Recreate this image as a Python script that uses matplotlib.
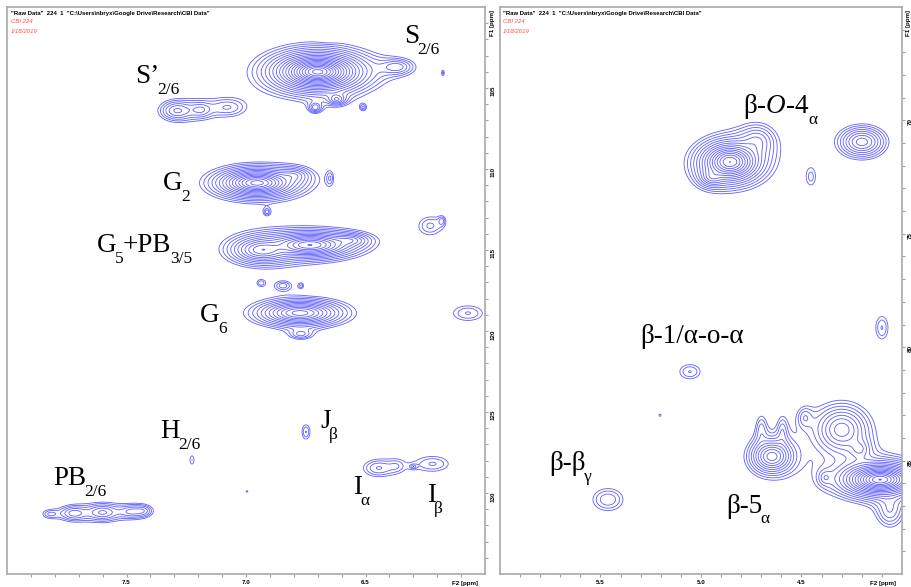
import numpy as np
import matplotlib.pyplot as plt
from matplotlib.ticker import FixedLocator

plt.rcParams['font.family'] = ['Liberation Serif', 'DejaVu Serif']
plt.rcParams['mathtext.fontset'] = 'custom'
plt.rcParams['mathtext.rm'] = 'Liberation Serif'
plt.rcParams['mathtext.it'] = 'Liberation Serif:italic'

# aromatic region cross peaks: 1H shift, 13C shift, height, 1H width, 13C width
aro_h = [6.700, 6.370, 6.710, 6.620, 6.510,
         7.289, 7.190, 7.075,
         6.954, 6.800, 6.912, 6.649,
         6.732, 6.933, 6.565, 6.230, 6.180,
         6.937, 6.845, 6.770,
         6.774, 6.770, 6.071, 6.176,
         6.749, 7.226, 6.448, 6.370, 6.218, 6.300, 6.996,
         7.720, 7.600, 7.480, 7.820, 7.430,
         6.661, 6.720]
aro_c = [104.00, 103.70, 106.20, 105.70, 106.20,
         106.40, 106.35, 106.20,
         110.86, 110.40, 112.65, 110.56,
         114.69, 115.00, 114.40, 113.50, 113.20,
         117.04, 117.20, 117.20,
         118.89, 120.20, 118.90, 104.07,
         126.23, 127.96, 128.46, 128.33, 128.20, 128.37, 129.90,
         131.25, 131.20, 131.15, 131.30, 131.10,
         101.85, 117.30]
aro_amp = [166, 3, 3, 4, 1.5,
           3.7, 2.2, 2.0,
           45, 3, 1.6, 1.3,
           30, 12, 4, 1.7, 1.3,
           1.3, 1.7, 1.3,
           20.5, 2, 1.7, 1.3,
           1.7, 1.3, 2.1, 1.0, 1.7, 1.3, 1.3,
           3.0, 3.6, 2.5, 1.5, 1.8,
           -1.3, -1.3]
aro_wh = [0.085, 0.080, 0.030, 0.040, 0.020,
          0.080, 0.060, 0.100,
          0.100, 0.070, 0.020, 0.022,
          0.120, 0.104, 0.080, 0.076, 0.020,
          0.028, 0.046, 0.017,
          0.125, 0.060, 0.106, 0.011,
          0.030, 0.022, 0.087, 0.050, 0.114, 0.017, 0.011,
          0.070, 0.080, 0.070, 0.050, 0.050,
          0.028, 0.022]
aro_wc = [0.54, 0.55, 0.35, 0.35, 0.30,
          0.70, 0.60, 0.75,
          0.53, 0.50, 0.30, 0.66,
          0.52, 0.67, 0.40, 0.90, 0.40,
          0.33, 0.39, 0.25,
          0.56, 0.40, 0.79, 0.33,
          0.79, 0.66, 0.74, 0.60, 0.79, 0.16, 0.12,
          0.55, 0.60, 0.50, 0.40, 0.45,
          0.25, 0.25]

# oxygenated aliphatic region cross peaks
ali_h = [4.856, 4.720, 4.945, 4.199, 4.453,
         5.055, 5.204, 4.100, 5.463,
         4.647, 4.700, 4.595,
         4.300, 4.210, 4.483,
         4.109, 4.060, 4.383]
ali_c = [71.83, 70.90, 72.50, 70.95, 72.49,
         81.08, 83.00, 79.14, 86.72,
         84.82, 83.60, 83.70,
         83.63, 84.50, 83.10,
         85.84, 87.20, 85.75]
ali_amp = [51, 3, 5, 7.2, 1.3,
           1.7, 1.3, 1.7, 2.1,
           12.1, 1.5, 1.5,
           7.2, 2.5, 1.6,
           87, 2.5, 1.5]
ali_wh = [0.090, 0.100, 0.060, 0.103, 0.046,
          0.090, 0.013, 0.054, 0.111,
          0.086, 0.040, 0.035,
          0.122, 0.060, 0.050,
          0.100, 0.080, 0.040]
ali_wc = [0.535, 0.80, 0.40, 0.61, 0.76,
          0.56, 0.12, 0.88, 0.72,
          0.62, 0.90, 0.90,
          0.98, 0.50, 0.60,
          0.38, 0.90, 0.40]

# peak assignments: alternating normal / subscript pieces, then 1H and 13C of the baseline start
aro_labels = [(['S', '2/6'], 6.339, 102.22), (['S’', '2/6'], 7.464, 104.69),
              (['G', '2'], 7.347, 111.30), (['G', '5', '+PB', '3/5'], 7.623, 115.12),
              (['G', '6'], 7.192, 119.44), (['H', '2/6'], 7.360, 126.60),
              (['J', 'β'], 6.690, 125.99), (['PB', '2/6'], 7.808, 129.50),
              (['I', 'α'], 6.552, 130.06), (['I', 'β'], 6.243, 130.56)]
ali_labels = [(['β-$\\mathit{O}$-4', 'α'], 4.791, 69.67),
              (['β-1/α-o-α'], 5.303, 79.80),
              (['β-β', 'γ'], 5.756, 85.40),
              (['β-5', 'α'], 4.876, 87.29)]

levels = 1.3 ** np.arange(0, 26)


def spectrum(x, y, h, c, amp, wh, wc):
    X, Y = np.meshgrid(x, y)
    Z = np.zeros_like(X)
    for h0, c0, a, w1, w2 in zip(h, c, amp, wh, wc):
        u2 = ((X - h0) / w1) ** 2 + ((Y - c0) / w2) ** 2
        Z += a / (1 + u2) ** 2
    return X, Y, Z


def assign(ax, parts, x, y):
    prev = ax.text(x, y, parts[0], fontsize=19.5, ha='left', va='baseline')
    for i, txt in enumerate(parts[1:], start=1):
        sub = i % 2 == 1
        prev = ax.annotate(txt, xy=(1, y), xycoords=(prev, ax.transData),
                           xytext=(-1.2 if sub else -0.5, -7.8 if sub else 0),
                           textcoords='offset points', fontsize=12.5 if sub else 19.5,
                           ha='left', va='baseline')


def panel(ax, xr, yr, h, c, amp, wh, wc, labels, xmaj, ymaj, yminor):
    x = np.linspace(xr[1], xr[0], 900)
    y = np.linspace(yr[0], yr[1], 900)
    X, Y, Z = spectrum(x, y, h, c, amp, wh, wc)
    ax.contour(X, Y, Z, levels=levels, colors='#5c5cff', linewidths=0.6)
    ax.contour(X, Y, Z, levels=-levels[::-1], colors='#3aa6a0', linewidths=0.6)
    ax.set_xlim(xr)
    ax.set_ylim(yr)

    ax.yaxis.tick_right()
    ax.xaxis.set_major_locator(FixedLocator(xmaj))
    ax.xaxis.set_minor_locator(FixedLocator(np.round(np.arange(xr[1] + 0.1, xr[0] - 0.05, 0.1), 2)))
    ax.yaxis.set_major_locator(FixedLocator(ymaj))
    ax.yaxis.set_minor_locator(FixedLocator(yminor))
    ax.tick_params(which='both', direction='out', color='#a0a0a0', width=0.8, length=2.5,
                   labelsize=4.5, pad=1.5)
    ax.tick_params(axis='y', labelrotation=90)
    for t in ax.get_xticklabels() + ax.get_yticklabels():
        t.set_fontfamily('Liberation Sans')
        t.set_fontweight('bold')
    for s in ax.spines.values():
        s.set_color('#a8a8a8')
        s.set_linewidth(1.2)

    for parts, lx, ly in labels:
        assign(ax, parts, lx, ly)

    hdr = dict(transform=ax.transAxes, va='top', ha='left', family='Liberation Sans', fontsize=4.3)
    ax.text(0.008, 0.993, '"Raw Data"  224  1  "C:\\Users\\nbryx\\Google Drive\\Research\\CBI Data"',
            fontweight='bold', color='black', **hdr)
    ax.text(0.008, 0.979, 'CBI 224', style='italic', color='#ff4a4a', **hdr)
    ax.text(0.008, 0.962, '1/18/2019', style='italic', color='#ff4a4a', **hdr)
    ax.text(1.01, 0.995, 'F1 [ppm]', transform=ax.transAxes, rotation=90, va='top', ha='left',
            family='Liberation Sans', fontweight='bold', fontsize=4.5)
    ax.text(0.985, -0.012, 'F2 [ppm]', transform=ax.transAxes, va='top', ha='right',
            family='Liberation Sans', fontweight='bold', fontsize=4.5)


fig = plt.figure(figsize=(9.12, 5.87), dpi=100)
ax1 = fig.add_axes([7 / 912, 13 / 587, 478 / 912, 567 / 587])
ax2 = fig.add_axes([500 / 912, 13 / 587, 402 / 912, 567 / 587])

panel(ax1, (8.0, 6.0), (135, 100), aro_h, aro_c, aro_amp, aro_wh, aro_wc, aro_labels,
      [7.5, 7.0, 6.5], [105, 110, 115, 120, 125, 130], list(range(101, 135)))
panel(ax2, (6.0, 4.0), (90, 65), ali_h, ali_c, ali_amp, ali_wh, ali_wc, ali_labels,
      [5.5, 5.0, 4.5], [70, 75, 80, 85], list(range(66, 90)))

fig.savefig('out.png', dpi=100)
